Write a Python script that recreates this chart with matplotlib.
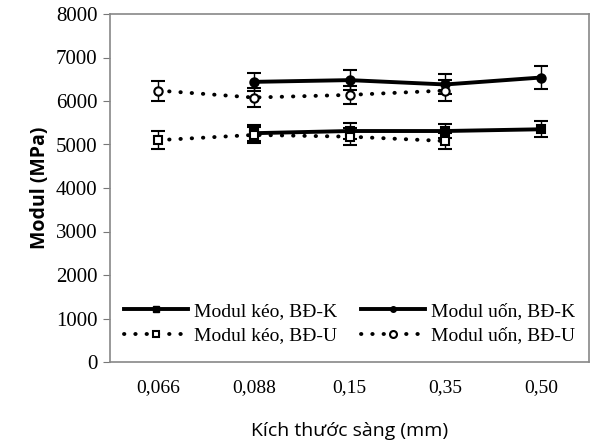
import matplotlib
matplotlib.use('Agg')
import matplotlib.pyplot as plt
from matplotlib.lines import Line2D
import numpy as np

# sieve sizes (categorical x axis)
sizes = ['0,066', '0,088', '0,15', '0,35', '0,50']

# values (MPa); None = no point
keo_K = [None, 5260, 5310, 5310, 5350]
keo_K_err = [0, 180, 180, 170, 180]
uon_K = [None, 6440, 6480, 6380, 6540]
uon_K_err = [0, 210, 230, 230, 270]
keo_U = [5100, 5220, 5180, 5080, None]
keo_U_err = [200, 190, 200, 180, 0]
uon_U = [6240, 6080, 6140, 6240, None]
uon_U_err = [230, 220, 210, 240, 0]

serif = 'Liberation Serif'
sans = 'Open Sans'
dotted = (0, (0.1, 2.8))

fig = plt.figure(figsize=(5.94, 4.47), dpi=100)
ax = fig.add_axes([110 / 594, 1 - 362 / 447, 479 / 594, 348 / 447])

ind = np.arange(len(sizes))


def series(vals, errs, ls, marker, mfc, ms):
    x = [i for i, v in zip(ind, vals) if v is not None]
    y = [v for v in vals if v is not None]
    e = [er for v, er in zip(vals, errs) if v is not None]
    ax.errorbar(x, y, yerr=e, color='black', ecolor='black', elinewidth=1.0,
                capsize=5, capthick=1.0, linestyle=ls, linewidth=2.8,
                dash_capstyle='round', marker=marker, markersize=ms,
                markerfacecolor=mfc, markeredgecolor='black',
                markeredgewidth=1.5)


series(keo_K, keo_K_err, '-', 's', 'black', 6)
series(uon_K, uon_K_err, '-', 'o', 'black', 6)
series(keo_U, keo_U_err, dotted, 's', 'white', 6)
series(uon_U, uon_U_err, dotted, 'o', 'white', 6)

ax.set_xlim(-0.5, len(sizes) - 0.5)
ax.set_ylim(0, 8000)
ax.set_yticks(np.arange(0, 8001, 1000))
ax.set_xticks(ind)
ax.set_xticklabels(sizes)
ax.tick_params(axis='both', labelfontfamily=serif)
ax.tick_params(axis='x', length=0, pad=12, labelsize=14)
ax.tick_params(axis='y', direction='out', length=5, color='#777777', pad=4,
               labelsize=15)
for s in ax.spines.values():
    s.set_color('#888888')
    s.set_linewidth(1.2)

ax.set_xlabel('Kích thước sàng (mm)', fontfamily=sans, fontsize=14, labelpad=19)
ax.set_ylabel('Modul (MPa)', fontfamily=sans, fontsize=14, fontweight='bold', labelpad=4)

# legend: row 1 = BĐ-K, row 2 = BĐ-U
h = [
    Line2D([], [], color='black', lw=2.8, marker='s', ms=5, mfc='black', mec='black'),
    Line2D([], [], color='black', lw=2.8, ls=dotted, dash_capstyle='round',
           marker='s', ms=5, mfc='white', mec='black', mew=1.5),
    Line2D([], [], color='black', lw=2.8, marker='o', ms=4, mfc='black', mec='black'),
    Line2D([], [], color='black', lw=2.8, ls=dotted, dash_capstyle='round',
           marker='o', ms=5, mfc='white', mec='black', mew=1.5),
]
labels = ['Modul kéo, BĐ-K', 'Modul kéo, BĐ-U', 'Modul uốn, BĐ-K', 'Modul uốn, BĐ-U']
ax.legend(h, labels, loc='lower center', ncol=2, frameon=False,
          prop={'family': serif, 'size': 14}, handlelength=3.3,
          columnspacing=1.2, handletextpad=0.3, labelspacing=0.35,
          bbox_to_anchor=(0.5, 0.0))

fig.savefig('out.png', dpi=100)
